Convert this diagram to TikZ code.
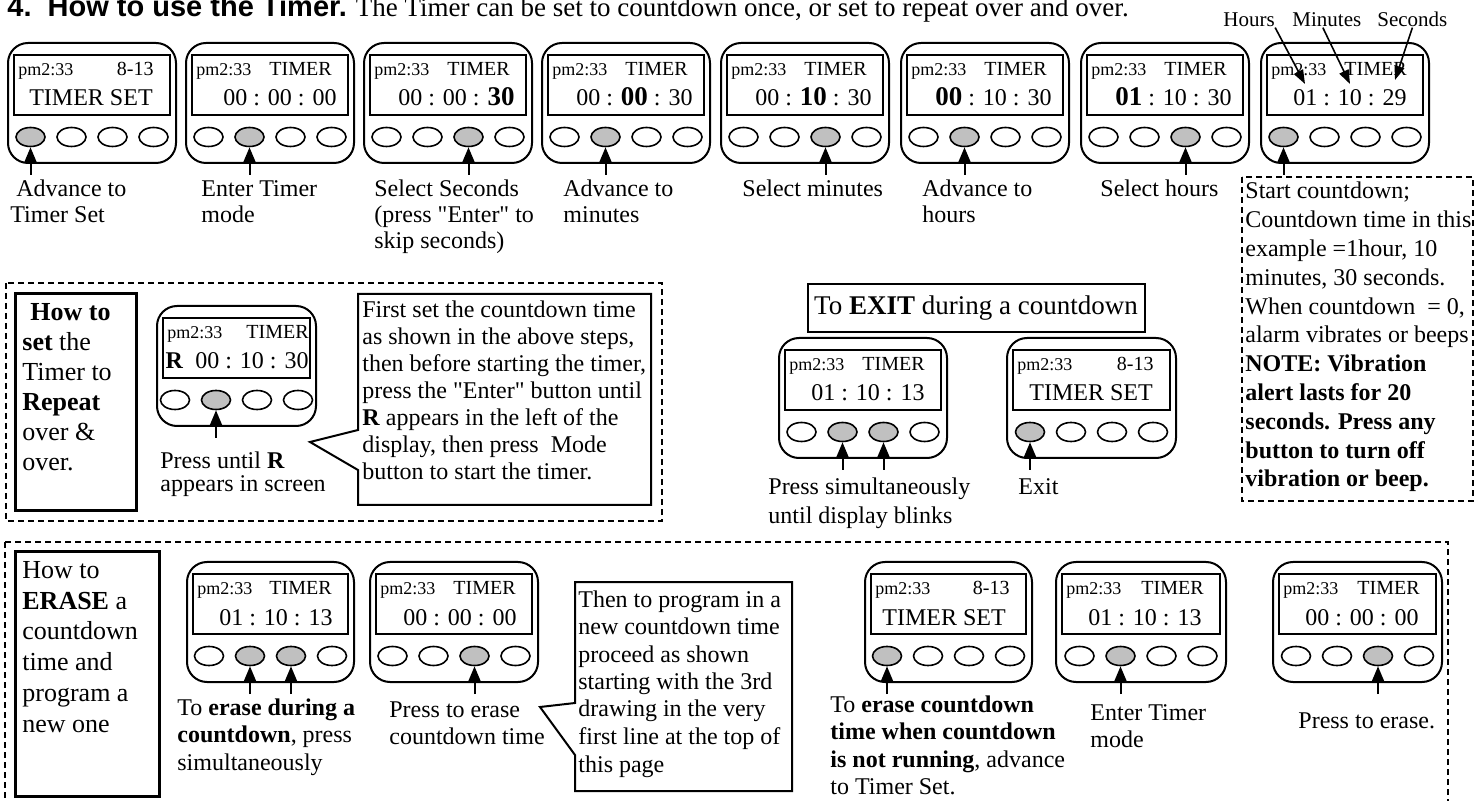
\documentclass[tikz,border=0pt]{standalone}
\usepackage{fontspec}
\setmainfont{Liberation Serif}
\newfontfamily\headfont{Liberation Sans}
\usetikzlibrary{shapes.geometric, arrows.meta}
\definecolor{dn}{RGB}{192,192,192}
\colorlet{up}{white}
\tikzstyle{casing} = [line width=1pt, rounded corners=10pt]
\tikzstyle{lcdframe} = [line width=1pt]
\tikzstyle{btn} = [ellipse, draw, line width=0.8pt, minimum width=14.5pt,
                   minimum height=9.5pt, inner sep=0pt]
\tikzstyle{lcdsmall} = [inner sep=0pt, font=\fontsize{9}{10}\selectfont]
\tikzstyle{lcdmid} = [inner sep=0pt, font=\fontsize{10}{11}\selectfont]
\tikzstyle{lcdbig} = [inner sep=0pt, font=\fontsize{12}{13}\selectfont]
\tikzstyle{hint} = [inner sep=0pt, anchor=base west,
                    font=\fontsize{12}{13}\selectfont]
\tikzstyle{dashbox} = [line width=0.6pt, dash pattern=on 3pt off 2pt]
\tikzstyle{thickbox} = [line width=1.5pt]
\tikzstyle{callout} = [line width=1pt, line join=miter]
\tikzstyle{pressarrow} = [line width=1pt, -{Triangle[width=6pt,length=7.5pt]}]
\tikzstyle{tagarrow} = [line width=0.8pt, -{Triangle[width=5pt,length=7pt]}]
\newcommand{\digB}[1]{\textbf{\fontsize{13.5}{14}\selectfont #1}}
\newcommand{\textlines}[1]{\begin{tabular}[t]{@{}l@{}}#1\end{tabular}}
\newcommand{\drawTimer}[9]
{
  \begin{scope}[shift={(#2,#3)}]
  \draw [casing] (0,0) rectangle (#4,120);
  \draw [lcdframe] (6,12) rectangle (#4-6,72);
  \node [lcdsmall, anchor=base west] (#1pm) at (10,33) {pm2:33};
  \node [lcdmid, anchor=base east] (#1top) at (#4-22,33) {#6};
  \node [lcdbig, anchor=#9] (#1txt) at (#8,63) {#7};
  \foreach \f [count=\k] in {#5}
    \node [btn, fill=\f] (#1b\k) at ({#4/2+(\k-2.5)*41},94) {};
  \end{scope}
}
\newcommand{\drawPress}[1]
{
  \coordinate (#1a) at ([yshift=-19pt]#1.center);
  \draw [pressarrow] (#1a) -- (#1);
}
\begin{document}
\begin{tikzpicture}[x=0.5pt, y=-0.5pt]
\fill [white] (0,0) rectangle (1477,801);
\useasboundingbox (0,0) rectangle (1477,801);

\node [hint, font=\fontsize{13.5}{15}\selectfont] (title) at (7,17) {{\headfont\bfseries\fontsize{14.5}{16}\selectfont
  4.\ \ How to use the Timer.} The Timer can be set to countdown once, or set to repeat over and over.};

\drawTimer{d1}{8}{43}{168}{dn,up,up,up}{8-13}{TIMER SET}{83}{base}
\drawTimer{d2}{186}{43}{168}{up,dn,up,up}{TIMER}{00 : 00 : 00}{151}{base east}
\drawTimer{d3}{364}{43}{168}{up,up,dn,up}{TIMER}{00 : 00 : \digB{30}}{151}{base east}
\drawTimer{d4}{542}{43}{168}{up,dn,up,up}{TIMER}{00 : \digB{00} : 30}{151}{base east}
\drawTimer{d5}{721}{43}{168}{up,up,dn,up}{TIMER}{00 : \digB{10} : 30}{151}{base east}
\drawTimer{d6}{901}{43}{168}{up,dn,up,up}{TIMER}{\digB{00} : 10 : 30}{151}{base east}
\drawTimer{d7}{1081}{43}{168}{up,up,dn,up}{TIMER}{\digB{01} : 10 : 30}{151}{base east}
\drawTimer{d8}{1261}{43}{168}{dn,up,up,up}{TIMER}{01 : 10 : 29}{146}{base east}
\foreach \pb in {d1b1,d2b2,d3b3,d4b2,d5b3,d6b2,d7b3,d8b1}
  {\drawPress{\pb}}

\node [hint, font=\fontsize{10.5}{12}\selectfont] (hrs) at (1223,27) {Hours};
\node [hint, font=\fontsize{10.5}{12}\selectfont] (mins) at (1292,27) {Minutes};
\node [hint, font=\fontsize{10.5}{12}\selectfont] (secs) at (1377,27) {Seconds};
\coordinate (hrsT) at (1305,84);
\coordinate (minsT) at (1350,84);
\coordinate (secsT) at (1395,80);
\draw [tagarrow] (hrs.south east) -- (hrsT);
\draw [tagarrow] ([xshift=-2pt]mins.south) -- (minsT);
\draw [tagarrow] (secs.south) -- (secsT);

\node [hint] (lbl1) at (10,197) {\textlines{\hspace*{3pt}Advance to\\Timer Set}};
\node [hint] (lbl2) at (201,197) {\textlines{Enter Timer\\mode}};
\node [hint] (lbl3) at (374,197) {\textlines{Select Seconds\\(press \textquotedbl Enter\textquotedbl\ to\\skip seconds)}};
\node [hint] (lbl4) at (563,197) {\textlines{Advance to\\minutes}};
\node [hint] (lbl5) at (742,197) {Select minutes};
\node [hint] (lbl6) at (922,197) {\textlines{Advance to\\hours}};
\node [hint] (lbl7) at (1100,197) {Select hours};

\draw [dashbox] (1242,177) rectangle (1473,501);
\node [hint, font=\fontsize{12}{14.4}\selectfont] (note) at (1245,199) {\textlines{Start countdown;\\
  Countdown time in this\\example =1hour, 10\\minutes, 30 seconds.\\
  When countdown\ \ = 0,\\alarm vibrates or beeps\\\textbf{NOTE: Vibration}\\
  \textbf{alert lasts for 20}\\\textbf{seconds. Press any}\\
  \textbf{button to turn off}\\\textbf{vibration or beep.}}};

\draw [dashbox] (6,283) rectangle (662,521);
\draw [thickbox] (15,294) rectangle (136,511);
\node [hint, font=\fontsize{13}{15}\selectfont] (settxt) at (22,321)
  {\textlines{\hspace*{4pt}\textbf{How to}\\\textbf{set} the\\Timer to\\\textbf{Repeat}\\over \&\\over.}};
\drawTimer{r1}{157}{306}{159}{up,dn,up,up}{TIMER\hspace*{-7.5pt}}{\textbf{R}\hspace{6pt}00 : 10 : 30}{152}{base east}
\drawPress{r1b2}
\node [hint, font=\fontsize{12}{11.5}\selectfont] (rlbl) at (160,469) {\textlines{Press until \textbf{R}\\appears in screen}};
\draw [callout] (358,294) -- (651,294) -- (651,505) -- (358,505) -- (358,470)
  -- (310,442) -- (358,430) -- cycle;
\node [hint, font=\fontsize{12}{13.5}\selectfont] (settip) at (362,318)
  {\textlines{First set the countdown time\\as shown in the above steps,\\then before starting the timer,\\
  press the \textquotedbl Enter\textquotedbl\ button until\\\textbf{R} appears in the left of the\\display, then press\ \ Mode\\
  button to start the timer.}};

\node [draw, line width=1pt, minimum width=168.5pt, minimum height=24pt, inner sep=0pt,
       font=\fontsize{13.5}{15}\selectfont] (exithead) at (976,308) {To \textbf{EXIT} during a countdown};
\drawTimer{x1}{779}{338}{168}{up,dn,dn,up}{TIMER}{01 : 10 : 13}{146}{base east}
\drawTimer{x2}{1007}{338}{169}{dn,up,up,up}{8-13}{TIMER SET}{84}{base}
\foreach \pb in {x1b2,x1b3,x2b1}
  {\drawPress{\pb}}
\node [hint, font=\fontsize{12}{14}\selectfont] (xlbl1) at (768,495) {\textlines{Press simultaneously\\until display blinks}};
\node [hint] (xlbl2) at (1018,495) {Exit};

\draw [dashbox] (5,542) rectangle (1448,812);
\draw [thickbox] (15,552) rectangle (159,796);
\node [hint, font=\fontsize{13}{15.5}\selectfont] (erasetxt) at (22,578)
  {\textlines{How to\\\textbf{ERASE} a\\countdown\\time and\\program a\\new one}};
\drawTimer{e1}{187}{562}{167}{up,dn,dn,up}{TIMER}{01 : 10 : 13}{146}{base east}
\drawTimer{e2}{370}{562}{168}{up,up,dn,up}{TIMER}{00 : 00 : 00}{147}{base east}
\drawTimer{e3}{865}{562}{167}{dn,up,up,up}{8-13}{TIMER SET}{79}{base}
\drawTimer{e4}{1056}{562}{170}{up,dn,up,up}{TIMER}{01 : 10 : 13}{146}{base east}
\drawTimer{e5}{1273}{562}{169}{up,up,dn,up}{TIMER}{00 : 00 : 00}{146}{base east}
\foreach \pb in {e1b2,e1b3,e2b3,e3b1,e4b2,e5b3}
  {\drawPress{\pb}}
\node [hint, font=\fontsize{12}{13.75}\selectfont] (elbl1) at (177,715)
  {\textlines{To \textbf{erase during a}\\\textbf{countdown}, press\\simultaneously}};
\node [hint, font=\fontsize{12}{13.75}\selectfont] (elbl2) at (389,717) {\textlines{Press to erase\\countdown time}};
\draw [callout] (575,582) -- (792,582) -- (792,791) -- (575,791) -- (575,755)
  -- (540,707) -- (575,703) -- cycle;
\node [hint, font=\fontsize{12}{13.75}\selectfont] (erasetip) at (578,607)
  {\textlines{Then to program in a\\new countdown time\\proceed as shown\\starting with the 3rd\\
  drawing in the very\\first line at the top of\\this page}};
\node [hint, font=\fontsize{12}{13.75}\selectfont] (elbl3) at (830,712)
  {\textlines{To \textbf{erase countdown}\\\textbf{time when countdown}\\\textbf{is not running}, advance\\to Timer Set.}};
\node [hint, font=\fontsize{12}{13.75}\selectfont] (elbl4) at (1090,720) {\textlines{Enter Timer\\mode}};
\node [hint] (elbl5) at (1298,728) {Press to erase.};

\end{tikzpicture}
\end{document}
